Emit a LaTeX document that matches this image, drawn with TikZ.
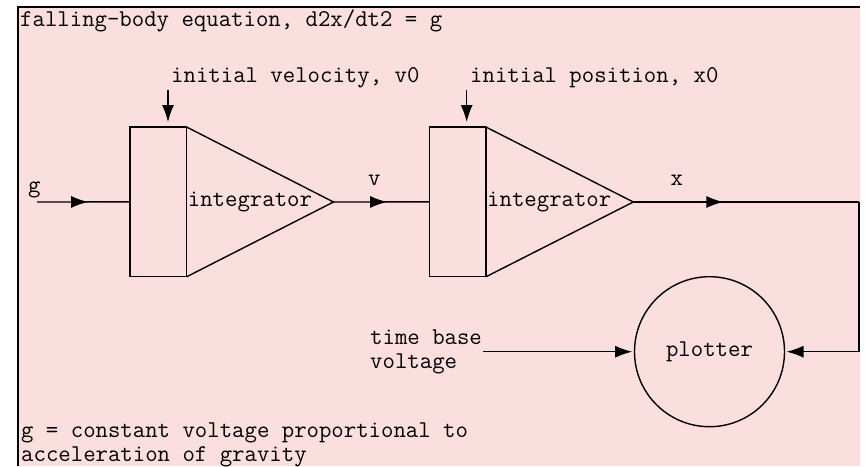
\documentclass[tikz,border=0pt]{standalone}
\usepackage{fontspec}
\usepackage{tikz}
\usetikzlibrary{arrows.meta, decorations.markings, positioning, calc}
\definecolor{bgpink}{RGB}{251,222,222}
\tikzset{
  >=latex,
  sig/.tip={Latex[length=17pt,width=12pt]},
  % Blocchi
  intbox/.style={draw,line width=1.4pt,minimum width=56.7pt,minimum height=149.7pt,inner sep=0pt,outer sep=0pt},
  plotbox/.style={draw,circle,line width=1.4pt,minimum size=150pt,inner sep=0pt,outer sep=0pt},
  label/.style={inner sep=0pt,anchor=base west},
  % Connessioni
  connect/.style={line width=1.4pt},
  connect arrow/.style={line width=1.4pt,-sig},
  flow/.style={line width=1.4pt,postaction={decorate},
    decoration={markings,mark=at position #1 with {\arrow{sig}}}}
}

\begin{document}
\begin{tikzpicture}[x=1pt,y=-1pt,font=\ttfamily\fontsize{24.1}{23.5}\selectfont]
    \useasboundingbox (0,0) rectangle (865,466);
    \fill[bgpink] (18,7) rectangle (859.5,466);
    \draw[line width=1.5pt] (18,466) -- (18,7) -- (859.5,7);
    \node[label] (Title) at (20,26.5) {falling-body equation, d2x/dt2 = g};
    \node[label] (LabelV0) at (171,82.5) {initial velocity, v0};
    \node[label] (LabelX0) at (470,82.5) {initial position, x0};
    \node[intbox] (Box1) at (158.35,201.9) {};
    \node[intbox] (Box2) at (457.65,201.9) {};
    \coordinate (Tip1) at (333.5,202);
    \coordinate (Tip2) at (633.3,202);
    \draw[connect] (Box1.north east) -- (Tip1) -- (Box1.south east);
    \draw[connect] (Box2.north east) -- (Tip2) -- (Box2.south east);
    \node[inner sep=1pt,anchor=west] (Int1) at (Box1.east) {integrator};
    \node[inner sep=1pt,anchor=west] (Int2) at (Box2.east) {integrator};
    \node[label] (LabelG) at (28,192) {g};
    \node[label] (LabelV) at (368,185) {v};
    \node[label] (LabelX) at (670.5,185) {x};
    \coordinate (GIn) at (37,202);
    \coordinate (V0In) at (168,90);
    \coordinate (X0In) at (466.7,90);
    \coordinate (Corner) at (858.7,202);
    \node[plotbox] (Plot) at (709.5,351.7) {plotter};
    \node[align=left,anchor=west,inner sep=0pt] (Time) at (370,351.7) {time base\\voltage};
    \node[align=left,anchor=west,inner sep=0pt] (Note) at (21,445) {g = constant voltage proportional to\\[0.9pt]acceleration of gravity};
    \draw[flow=0.55] (GIn) -- (Box1.west);
    \draw[flow=0.56] (Tip1) -- (Box2.west);
    \draw[flow=0.40] (Tip2) -- (Corner);
    \draw[connect arrow] (V0In) -- ($(Box1.north)+(9.65,-5)$);
    \draw[connect arrow] (X0In) -- ($(Box2.north)+(9.05,-5)$);
    \draw[line width=1.8pt] (Corner) -- (Corner |- Plot.east);
    \draw[connect arrow] (Corner |- Plot.east) -- ([xshift=2pt]Plot.east);
    \draw[connect arrow] ([xshift=113pt]Time.west) -- ([xshift=-2.3pt]Plot.west);
  \end{tikzpicture}
\end{document}
